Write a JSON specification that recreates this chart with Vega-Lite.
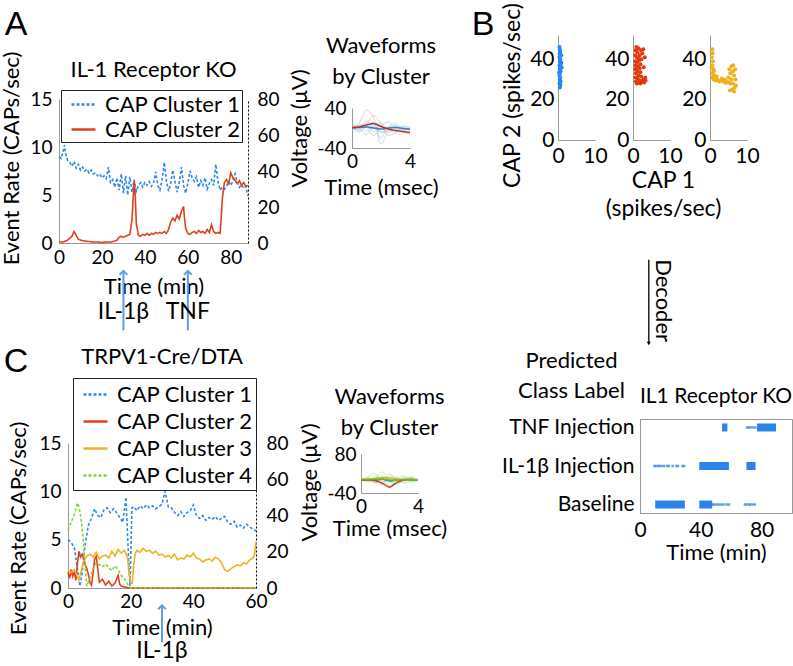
{
"$schema":"https://vega.github.io/schema/vega-lite/v6.json",
"padding":0,
"background":"white",
"data":{"values":[{"d":0}]},
"datasets":{
"arate":[
{"t":0,"v":9.0,"s":"CAP Cluster 1"},{"t":1,"v":8.8,"s":"CAP Cluster 1"},{"t":2,"v":9.6,"s":"CAP Cluster 1"},{"t":2.5,"v":10.2,"s":"CAP Cluster 1"},{"t":3,"v":9.4,"s":"CAP Cluster 1"},{"t":4,"v":8.6,"s":"CAP Cluster 1"},{"t":5,"v":8.4,"s":"CAP Cluster 1"},{"t":6,"v":8.0,"s":"CAP Cluster 1"},{"t":7,"v":8.5,"s":"CAP Cluster 1"},{"t":8,"v":7.8,"s":"CAP Cluster 1"},{"t":9,"v":8.2,"s":"CAP Cluster 1"},{"t":10,"v":7.6,"s":"CAP Cluster 1"},{"t":11,"v":7.9,"s":"CAP Cluster 1"},{"t":12,"v":7.5,"s":"CAP Cluster 1"},{"t":13,"v":7.7,"s":"CAP Cluster 1"},{"t":14,"v":7.3,"s":"CAP Cluster 1"},{"t":15,"v":7.6,"s":"CAP Cluster 1"},{"t":16,"v":7.2,"s":"CAP Cluster 1"},{"t":17,"v":7.3,"s":"CAP Cluster 1"},{"t":18,"v":7.0,"s":"CAP Cluster 1"},{"t":19,"v":7.2,"s":"CAP Cluster 1"},{"t":20,"v":6.8,"s":"CAP Cluster 1"},{"t":21,"v":7.0,"s":"CAP Cluster 1"},{"t":22,"v":6.7,"s":"CAP Cluster 1"},{"t":23,"v":7.9,"s":"CAP Cluster 1"},{"t":24,"v":6.3,"s":"CAP Cluster 1"},{"t":25,"v":6.6,"s":"CAP Cluster 1"},{"t":26,"v":5.8,"s":"CAP Cluster 1"},{"t":27,"v":6.8,"s":"CAP Cluster 1"},{"t":28,"v":5.5,"s":"CAP Cluster 1"},{"t":29,"v":7.2,"s":"CAP Cluster 1"},{"t":30,"v":5.2,"s":"CAP Cluster 1"},{"t":31,"v":7.0,"s":"CAP Cluster 1"},{"t":32,"v":5.0,"s":"CAP Cluster 1"},{"t":33,"v":6.9,"s":"CAP Cluster 1"},{"t":34,"v":5.3,"s":"CAP Cluster 1"},{"t":35,"v":6.6,"s":"CAP Cluster 1"},{"t":36,"v":5.4,"s":"CAP Cluster 1"},{"t":37,"v":6.0,"s":"CAP Cluster 1"},{"t":38,"v":6.3,"s":"CAP Cluster 1"},{"t":39,"v":5.8,"s":"CAP Cluster 1"},{"t":40,"v":6.3,"s":"CAP Cluster 1"},{"t":41,"v":6.0,"s":"CAP Cluster 1"},{"t":42,"v":6.4,"s":"CAP Cluster 1"},{"t":43,"v":5.9,"s":"CAP Cluster 1"},{"t":44,"v":6.2,"s":"CAP Cluster 1"},{"t":45,"v":7.4,"s":"CAP Cluster 1"},{"t":46,"v":6.0,"s":"CAP Cluster 1"},{"t":47,"v":5.5,"s":"CAP Cluster 1"},{"t":48,"v":6.6,"s":"CAP Cluster 1"},{"t":49,"v":8.4,"s":"CAP Cluster 1"},{"t":50,"v":6.5,"s":"CAP Cluster 1"},{"t":51,"v":5.4,"s":"CAP Cluster 1"},{"t":52,"v":6.2,"s":"CAP Cluster 1"},{"t":53,"v":7.6,"s":"CAP Cluster 1"},{"t":54,"v":6.4,"s":"CAP Cluster 1"},{"t":55,"v":5.3,"s":"CAP Cluster 1"},{"t":56,"v":6.3,"s":"CAP Cluster 1"},{"t":57,"v":7.9,"s":"CAP Cluster 1"},{"t":58,"v":6.0,"s":"CAP Cluster 1"},{"t":59,"v":5.2,"s":"CAP Cluster 1"},{"t":60,"v":6.2,"s":"CAP Cluster 1"},{"t":61,"v":7.5,"s":"CAP Cluster 1"},{"t":62,"v":6.8,"s":"CAP Cluster 1"},{"t":63,"v":6.4,"s":"CAP Cluster 1"},{"t":64,"v":6.9,"s":"CAP Cluster 1"},{"t":65,"v":5.8,"s":"CAP Cluster 1"},{"t":66,"v":6.5,"s":"CAP Cluster 1"},{"t":67,"v":6.0,"s":"CAP Cluster 1"},{"t":68,"v":6.8,"s":"CAP Cluster 1"},{"t":69,"v":5.6,"s":"CAP Cluster 1"},{"t":70,"v":6.2,"s":"CAP Cluster 1"},{"t":71,"v":6.6,"s":"CAP Cluster 1"},{"t":72,"v":6.0,"s":"CAP Cluster 1"},{"t":73,"v":8.2,"s":"CAP Cluster 1"},{"t":74,"v":6.4,"s":"CAP Cluster 1"},{"t":75,"v":5.5,"s":"CAP Cluster 1"},{"t":76,"v":5.8,"s":"CAP Cluster 1"},{"t":77,"v":5.6,"s":"CAP Cluster 1"},{"t":78,"v":5.9,"s":"CAP Cluster 1"},{"t":79,"v":6.4,"s":"CAP Cluster 1"},{"t":80,"v":6.0,"s":"CAP Cluster 1"},{"t":81,"v":6.5,"s":"CAP Cluster 1"},{"t":82,"v":7.2,"s":"CAP Cluster 1"},{"t":83,"v":6.3,"s":"CAP Cluster 1"},{"t":84,"v":5.8,"s":"CAP Cluster 1"},{"t":85,"v":6.1,"s":"CAP Cluster 1"},{"t":86,"v":5.7,"s":"CAP Cluster 1"},{"t":87,"v":5.9,"s":"CAP Cluster 1"},{"t":88,"v":4.9,"s":"CAP Cluster 1"},
{"t":0,"v":0.1,"s":"CAP Cluster 2"},{"t":2,"v":0.1,"s":"CAP Cluster 2"},{"t":4,"v":0.3,"s":"CAP Cluster 2"},{"t":5,"v":0.5,"s":"CAP Cluster 2"},{"t":6,"v":0.7,"s":"CAP Cluster 2"},{"t":7,"v":1.2,"s":"CAP Cluster 2"},{"t":8,"v":0.8,"s":"CAP Cluster 2"},{"t":9,"v":0.4,"s":"CAP Cluster 2"},{"t":10,"v":0.3,"s":"CAP Cluster 2"},{"t":12,"v":0.2,"s":"CAP Cluster 2"},{"t":14,"v":0.15,"s":"CAP Cluster 2"},{"t":16,"v":0.1,"s":"CAP Cluster 2"},{"t":18,"v":0.1,"s":"CAP Cluster 2"},{"t":20,"v":0.05,"s":"CAP Cluster 2"},{"t":22,"v":0.1,"s":"CAP Cluster 2"},{"t":24,"v":0.1,"s":"CAP Cluster 2"},{"t":26,"v":0.2,"s":"CAP Cluster 2"},{"t":27,"v":0.3,"s":"CAP Cluster 2"},{"t":28,"v":0.6,"s":"CAP Cluster 2"},{"t":29,"v":0.7,"s":"CAP Cluster 2"},{"t":30,"v":0.6,"s":"CAP Cluster 2"},{"t":31,"v":0.7,"s":"CAP Cluster 2"},{"t":32,"v":0.8,"s":"CAP Cluster 2"},{"t":33,"v":0.9,"s":"CAP Cluster 2"},{"t":34,"v":2.5,"s":"CAP Cluster 2"},{"t":35,"v":6.5,"s":"CAP Cluster 2"},{"t":35.5,"v":5.0,"s":"CAP Cluster 2"},{"t":36,"v":2.0,"s":"CAP Cluster 2"},{"t":37,"v":0.8,"s":"CAP Cluster 2"},{"t":38,"v":0.7,"s":"CAP Cluster 2"},{"t":39,"v":0.9,"s":"CAP Cluster 2"},{"t":40,"v":0.8,"s":"CAP Cluster 2"},{"t":41,"v":1.0,"s":"CAP Cluster 2"},{"t":42,"v":0.8,"s":"CAP Cluster 2"},{"t":43,"v":1.0,"s":"CAP Cluster 2"},{"t":44,"v":0.9,"s":"CAP Cluster 2"},{"t":45,"v":1.1,"s":"CAP Cluster 2"},{"t":46,"v":1.0,"s":"CAP Cluster 2"},{"t":47,"v":1.1,"s":"CAP Cluster 2"},{"t":48,"v":1.0,"s":"CAP Cluster 2"},{"t":49,"v":1.2,"s":"CAP Cluster 2"},{"t":50,"v":1.0,"s":"CAP Cluster 2"},{"t":51,"v":1.4,"s":"CAP Cluster 2"},{"t":52,"v":2.2,"s":"CAP Cluster 2"},{"t":53,"v":2.6,"s":"CAP Cluster 2"},{"t":54,"v":2.3,"s":"CAP Cluster 2"},{"t":55,"v":2.9,"s":"CAP Cluster 2"},{"t":56,"v":2.5,"s":"CAP Cluster 2"},{"t":57,"v":3.3,"s":"CAP Cluster 2"},{"t":58,"v":3.8,"s":"CAP Cluster 2"},{"t":58.5,"v":2.4,"s":"CAP Cluster 2"},{"t":59,"v":1.5,"s":"CAP Cluster 2"},{"t":60,"v":1.0,"s":"CAP Cluster 2"},{"t":61,"v":0.9,"s":"CAP Cluster 2"},{"t":62,"v":1.1,"s":"CAP Cluster 2"},{"t":63,"v":1.2,"s":"CAP Cluster 2"},{"t":64,"v":1.0,"s":"CAP Cluster 2"},{"t":65,"v":1.3,"s":"CAP Cluster 2"},{"t":66,"v":1.1,"s":"CAP Cluster 2"},{"t":67,"v":1.2,"s":"CAP Cluster 2"},{"t":68,"v":1.0,"s":"CAP Cluster 2"},{"t":69,"v":1.4,"s":"CAP Cluster 2"},{"t":70,"v":1.1,"s":"CAP Cluster 2"},{"t":71,"v":1.9,"s":"CAP Cluster 2"},{"t":72,"v":1.2,"s":"CAP Cluster 2"},{"t":73,"v":1.0,"s":"CAP Cluster 2"},{"t":74,"v":1.1,"s":"CAP Cluster 2"},{"t":75,"v":1.0,"s":"CAP Cluster 2"},{"t":75.5,"v":2.5,"s":"CAP Cluster 2"},{"t":76,"v":4.5,"s":"CAP Cluster 2"},{"t":77,"v":6.3,"s":"CAP Cluster 2"},{"t":78,"v":6.6,"s":"CAP Cluster 2"},{"t":79,"v":6.2,"s":"CAP Cluster 2"},{"t":80,"v":7.3,"s":"CAP Cluster 2"},{"t":81,"v":6.8,"s":"CAP Cluster 2"},{"t":82,"v":6.5,"s":"CAP Cluster 2"},{"t":83,"v":6.2,"s":"CAP Cluster 2"},{"t":84,"v":6.5,"s":"CAP Cluster 2"},{"t":85,"v":6.0,"s":"CAP Cluster 2"},{"t":86,"v":6.3,"s":"CAP Cluster 2"},{"t":87,"v":5.9,"s":"CAP Cluster 2"},{"t":88,"v":6.0,"s":"CAP Cluster 2"}
],
"ainj":[{"t":30,"lab":"IL-1β"},{"t":60,"lab":"TNF"}],
"cinj":[{"t":30,"lab":"IL-1β"}],
"awave":[
{"t":0,"v":3,"k":"w1","tr":"b1"},{"t":0.5,"v":5,"k":"w1","tr":"b1"},{"t":1,"v":-6,"k":"w1","tr":"b1"},{"t":1.5,"v":8,"k":"w1","tr":"b1"},{"t":2,"v":-20,"k":"w1","tr":"b1"},{"t":2.5,"v":4,"k":"w1","tr":"b1"},{"t":3,"v":0,"k":"w1","tr":"b1"},{"t":3.5,"v":2,"k":"w1","tr":"b1"},{"t":4,"v":-1,"k":"w1","tr":"b1"},
{"t":0,"v":-4,"k":"w1","tr":"b2"},{"t":0.5,"v":2,"k":"w1","tr":"b2"},{"t":1,"v":10,"k":"w1","tr":"b2"},{"t":1.5,"v":-8,"k":"w1","tr":"b2"},{"t":2,"v":6,"k":"w1","tr":"b2"},{"t":2.5,"v":-10,"k":"w1","tr":"b2"},{"t":3,"v":5,"k":"w1","tr":"b2"},{"t":3.5,"v":-3,"k":"w1","tr":"b2"},{"t":4,"v":0,"k":"w1","tr":"b2"},
{"t":0,"v":0,"k":"w1","tr":"b3"},{"t":0.5,"v":-8,"k":"w1","tr":"b3"},{"t":1,"v":4,"k":"w1","tr":"b3"},{"t":1.5,"v":12,"k":"w1","tr":"b3"},{"t":2,"v":-32,"k":"w1","tr":"b3"},{"t":2.5,"v":-6,"k":"w1","tr":"b3"},{"t":3,"v":3,"k":"w1","tr":"b3"},{"t":3.5,"v":0,"k":"w1","tr":"b3"},{"t":4,"v":-2,"k":"w1","tr":"b3"},
{"t":0,"v":6,"k":"w1","tr":"b4"},{"t":0.5,"v":0,"k":"w1","tr":"b4"},{"t":1,"v":-12,"k":"w1","tr":"b4"},{"t":1.5,"v":5,"k":"w1","tr":"b4"},{"t":2,"v":10,"k":"w1","tr":"b4"},{"t":2.5,"v":-4,"k":"w1","tr":"b4"},{"t":3,"v":-8,"k":"w1","tr":"b4"},{"t":3.5,"v":4,"k":"w1","tr":"b4"},{"t":4,"v":2,"k":"w1","tr":"b4"},
{"t":0,"v":-2,"k":"w1","tr":"b5"},{"t":0.5,"v":6,"k":"w1","tr":"b5"},{"t":1,"v":2,"k":"w1","tr":"b5"},{"t":1.5,"v":-15,"k":"w1","tr":"b5"},{"t":2,"v":3,"k":"w1","tr":"b5"},{"t":2.5,"v":12,"k":"w1","tr":"b5"},{"t":3,"v":-2,"k":"w1","tr":"b5"},{"t":3.5,"v":-6,"k":"w1","tr":"b5"},{"t":4,"v":1,"k":"w1","tr":"b5"},
{"t":0,"v":2,"k":"w1","tr":"b6"},{"t":0.5,"v":-3,"k":"w1","tr":"b6"},{"t":1,"v":14,"k":"w1","tr":"b6"},{"t":1.5,"v":2,"k":"w1","tr":"b6"},{"t":2,"v":-8,"k":"w1","tr":"b6"},{"t":2.5,"v":0,"k":"w1","tr":"b6"},{"t":3,"v":10,"k":"w1","tr":"b6"},{"t":3.5,"v":-2,"k":"w1","tr":"b6"},{"t":4,"v":-3,"k":"w1","tr":"b6"},
{"t":0,"v":0,"k":"w2","tr":"r1"},{"t":0.5,"v":10,"k":"w2","tr":"r1"},{"t":1,"v":36,"k":"w2","tr":"r1"},{"t":1.5,"v":20,"k":"w2","tr":"r1"},{"t":2,"v":-10,"k":"w2","tr":"r1"},{"t":2.5,"v":-5,"k":"w2","tr":"r1"},{"t":3,"v":5,"k":"w2","tr":"r1"},{"t":3.5,"v":-8,"k":"w2","tr":"r1"},{"t":4,"v":-12,"k":"w2","tr":"r1"},
{"t":0,"v":2,"k":"w2","tr":"r2"},{"t":0.5,"v":-5,"k":"w2","tr":"r2"},{"t":1,"v":8,"k":"w2","tr":"r2"},{"t":1.5,"v":25,"k":"w2","tr":"r2"},{"t":2,"v":8,"k":"w2","tr":"r2"},{"t":2.5,"v":-15,"k":"w2","tr":"r2"},{"t":3,"v":-10,"k":"w2","tr":"r2"},{"t":3.5,"v":0,"k":"w2","tr":"r2"},{"t":4,"v":-6,"k":"w2","tr":"r2"},
{"t":0,"v":0,"k":"m1","tr":"mb"},{"t":0.5,"v":1,"k":"m1","tr":"mb"},{"t":1,"v":2,"k":"m1","tr":"mb"},{"t":1.5,"v":0,"k":"m1","tr":"mb"},{"t":2,"v":-2,"k":"m1","tr":"mb"},{"t":2.5,"v":0,"k":"m1","tr":"mb"},{"t":3,"v":1,"k":"m1","tr":"mb"},{"t":3.5,"v":-1,"k":"m1","tr":"mb"},{"t":4,"v":-2,"k":"m1","tr":"mb"},
{"t":0,"v":1,"k":"m2","tr":"mr"},{"t":0.5,"v":2,"k":"m2","tr":"mr"},{"t":1,"v":6,"k":"m2","tr":"mr"},{"t":1.5,"v":9,"k":"m2","tr":"mr"},{"t":2,"v":3,"k":"m2","tr":"mr"},{"t":2.5,"v":-2,"k":"m2","tr":"mr"},{"t":3,"v":-5,"k":"m2","tr":"mr"},{"t":3.5,"v":-7,"k":"m2","tr":"mr"},{"t":4,"v":-9,"k":"m2","tr":"mr"}
],
"cwave":[
{"t":0,"v":5,"k":"w4","tr":"g1"},{"t":0.5,"v":-3,"k":"w4","tr":"g1"},{"t":1,"v":12,"k":"w4","tr":"g1"},{"t":1.5,"v":-8,"k":"w4","tr":"g1"},{"t":2,"v":20,"k":"w4","tr":"g1"},{"t":2.5,"v":-5,"k":"w4","tr":"g1"},{"t":3,"v":8,"k":"w4","tr":"g1"},{"t":3.5,"v":-2,"k":"w4","tr":"g1"},{"t":4,"v":3,"k":"w4","tr":"g1"},
{"t":0,"v":-4,"k":"w4","tr":"g2"},{"t":0.5,"v":8,"k":"w4","tr":"g2"},{"t":1,"v":-10,"k":"w4","tr":"g2"},{"t":1.5,"v":15,"k":"w4","tr":"g2"},{"t":2,"v":-18,"k":"w4","tr":"g2"},{"t":2.5,"v":10,"k":"w4","tr":"g2"},{"t":3,"v":-6,"k":"w4","tr":"g2"},{"t":3.5,"v":5,"k":"w4","tr":"g2"},{"t":4,"v":-1,"k":"w4","tr":"g2"},
{"t":0,"v":2,"k":"w4","tr":"g3"},{"t":0.5,"v":-6,"k":"w4","tr":"g3"},{"t":1,"v":4,"k":"w4","tr":"g3"},{"t":1.5,"v":25,"k":"w4","tr":"g3"},{"t":2,"v":-5,"k":"w4","tr":"g3"},{"t":2.5,"v":-12,"k":"w4","tr":"g3"},{"t":3,"v":4,"k":"w4","tr":"g3"},{"t":3.5,"v":8,"k":"w4","tr":"g3"},{"t":4,"v":0,"k":"w4","tr":"g3"},
{"t":0,"v":-2,"k":"w4","tr":"g4"},{"t":0.5,"v":4,"k":"w4","tr":"g4"},{"t":1,"v":-4,"k":"w4","tr":"g4"},{"t":1.5,"v":-15,"k":"w4","tr":"g4"},{"t":2,"v":12,"k":"w4","tr":"g4"},{"t":2.5,"v":6,"k":"w4","tr":"g4"},{"t":3,"v":-10,"k":"w4","tr":"g4"},{"t":3.5,"v":-4,"k":"w4","tr":"g4"},{"t":4,"v":5,"k":"w4","tr":"g4"},
{"t":0,"v":8,"k":"w4","tr":"g5"},{"t":0.5,"v":0,"k":"w4","tr":"g5"},{"t":1,"v":-8,"k":"w4","tr":"g5"},{"t":1.5,"v":6,"k":"w4","tr":"g5"},{"t":2,"v":-25,"k":"w4","tr":"g5"},{"t":2.5,"v":3,"k":"w4","tr":"g5"},{"t":3,"v":12,"k":"w4","tr":"g5"},{"t":3.5,"v":-6,"k":"w4","tr":"g5"},{"t":4,"v":-2,"k":"w4","tr":"g5"},
{"t":0,"v":0,"k":"w4","tr":"g6"},{"t":0.5,"v":10,"k":"w4","tr":"g6"},{"t":1,"v":20,"k":"w4","tr":"g6"},{"t":1.5,"v":-5,"k":"w4","tr":"g6"},{"t":2,"v":5,"k":"w4","tr":"g6"},{"t":2.5,"v":-15,"k":"w4","tr":"g6"},{"t":3,"v":0,"k":"w4","tr":"g6"},{"t":3.5,"v":10,"k":"w4","tr":"g6"},{"t":4,"v":-4,"k":"w4","tr":"g6"},
{"t":0,"v":0,"k":"m1","tr":"mb"},{"t":0.5,"v":0,"k":"m1","tr":"mb"},{"t":1,"v":-1,"k":"m1","tr":"mb"},{"t":1.5,"v":2,"k":"m1","tr":"mb"},{"t":2,"v":-3,"k":"m1","tr":"mb"},{"t":2.5,"v":0,"k":"m1","tr":"mb"},{"t":3,"v":1,"k":"m1","tr":"mb"},{"t":3.5,"v":0,"k":"m1","tr":"mb"},{"t":4,"v":0,"k":"m1","tr":"mb"},
{"t":0,"v":0,"k":"m2","tr":"mr"},{"t":0.5,"v":0,"k":"m2","tr":"mr"},{"t":1,"v":-2,"k":"m2","tr":"mr"},{"t":1.5,"v":-10,"k":"m2","tr":"mr"},{"t":2,"v":-22,"k":"m2","tr":"mr"},{"t":2.5,"v":-8,"k":"m2","tr":"mr"},{"t":3,"v":0,"k":"m2","tr":"mr"},{"t":3.5,"v":2,"k":"m2","tr":"mr"},{"t":4,"v":0,"k":"m2","tr":"mr"},
{"t":0,"v":2,"k":"m3","tr":"my"},{"t":0.5,"v":3,"k":"m3","tr":"my"},{"t":1,"v":5,"k":"m3","tr":"my"},{"t":1.5,"v":8,"k":"m3","tr":"my"},{"t":2,"v":6,"k":"m3","tr":"my"},{"t":2.5,"v":3,"k":"m3","tr":"my"},{"t":3,"v":2,"k":"m3","tr":"my"},{"t":3.5,"v":1,"k":"m3","tr":"my"},{"t":4,"v":1,"k":"m3","tr":"my"},
{"t":0,"v":1,"k":"m4","tr":"mg"},{"t":0.5,"v":1,"k":"m4","tr":"mg"},{"t":1,"v":2,"k":"m4","tr":"mg"},{"t":1.5,"v":3,"k":"m4","tr":"mg"},{"t":2,"v":0,"k":"m4","tr":"mg"},{"t":2.5,"v":-1,"k":"m4","tr":"mg"},{"t":3,"v":1,"k":"m4","tr":"mg"},{"t":3.5,"v":0,"k":"m4","tr":"mg"},{"t":4,"v":0,"k":"m4","tr":"mg"}
],
"s1":[{"x":0.5,"y":26},{"x":0.6,"y":27},{"x":0.4,"y":28},{"x":0.7,"y":29},{"x":0.5,"y":30},{"x":0.6,"y":31},{"x":0.4,"y":32},{"x":0.5,"y":33},{"x":0.7,"y":34},{"x":0.5,"y":35},{"x":0.6,"y":36},{"x":0.4,"y":37},{"x":0.8,"y":38},{"x":0.5,"y":39},{"x":0.6,"y":40},{"x":0.4,"y":41},{"x":0.9,"y":42},{"x":0.5,"y":43},{"x":0.6,"y":44},{"x":0.5,"y":45},{"x":0.4,"y":46},{"x":0.7,"y":37.5},{"x":0.8,"y":35.5},{"x":0.3,"y":33.5},{"x":0.6,"y":29.5},{"x":0.9,"y":38.5},{"x":0.5,"y":42.5},{"x":0.6,"y":27.5},{"x":1.0,"y":36}],
"s2":[{"x":1,"y":28},{"x":2,"y":28},{"x":3,"y":28.5},{"x":0.8,"y":29},{"x":1.8,"y":29.5},{"x":2.8,"y":30},{"x":3.3,"y":31},{"x":1.2,"y":30.5},{"x":0.7,"y":31},{"x":2.2,"y":31.5},{"x":1.5,"y":32},{"x":0.8,"y":33},{"x":2,"y":33.5},{"x":1.2,"y":34},{"x":0.6,"y":35},{"x":1.8,"y":35.5},{"x":1.3,"y":36.5},{"x":0.7,"y":37},{"x":2,"y":37.5},{"x":1.1,"y":38.5},{"x":0.6,"y":39},{"x":1.7,"y":39.5},{"x":2.3,"y":40},{"x":1,"y":41},{"x":0.6,"y":42},{"x":1.8,"y":42},{"x":2.5,"y":43},{"x":1.2,"y":43.5},{"x":0.7,"y":44.5},{"x":2.2,"y":44.5},{"x":1.5,"y":45.5},{"x":0.9,"y":46},{"x":2.8,"y":45},{"x":3.2,"y":41},{"x":2.9,"y":36},{"x":3.4,"y":29.5},{"x":1.5,"y":28.5},{"x":2.5,"y":29},{"x":1.4,"y":40.5},{"x":0.9,"y":35.5}],
"s3":[{"x":0.6,"y":45},{"x":0.7,"y":43},{"x":0.5,"y":41},{"x":0.8,"y":39},{"x":0.6,"y":37},{"x":0.9,"y":35},{"x":0.5,"y":33},{"x":0.7,"y":31},{"x":1.2,"y":32},{"x":1.0,"y":30},{"x":1.5,"y":29.5},{"x":2,"y":30},{"x":2.5,"y":29},{"x":3,"y":29.5},{"x":3.5,"y":29},{"x":4,"y":30},{"x":4.5,"y":29},{"x":5,"y":28.5},{"x":5.5,"y":28},{"x":5,"y":31},{"x":5.5,"y":33},{"x":5.2,"y":35},{"x":5.8,"y":36.5},{"x":6.3,"y":37},{"x":6.8,"y":35},{"x":6.5,"y":32},{"x":6.9,"y":30},{"x":6.2,"y":28},{"x":6.7,"y":26},{"x":6,"y":25},{"x":5.4,"y":24.5},{"x":6.5,"y":24},{"x":7,"y":27},{"x":5.8,"y":30},{"x":6.2,"y":34},{"x":1.8,"y":31.5},{"x":3.2,"y":30.5},{"x":4.2,"y":28.2},{"x":0.4,"y":36},{"x":1.1,"y":34}],
"crate":[
{"t":0,"v":5.0,"s":"CAP Cluster 1"},{"t":1,"v":4.7,"s":"CAP Cluster 1"},{"t":2,"v":4.2,"s":"CAP Cluster 1"},{"t":3,"v":2.0,"s":"CAP Cluster 1"},{"t":3.8,"v":0.2,"s":"CAP Cluster 1"},{"t":4.5,"v":1.5,"s":"CAP Cluster 1"},{"t":5.5,"v":4.5,"s":"CAP Cluster 1"},{"t":6.5,"v":6.5,"s":"CAP Cluster 1"},{"t":7.5,"v":7.2,"s":"CAP Cluster 1"},{"t":8.5,"v":8.2,"s":"CAP Cluster 1"},{"t":9.5,"v":7.5,"s":"CAP Cluster 1"},{"t":10.5,"v":7.3,"s":"CAP Cluster 1"},{"t":11.5,"v":8.1,"s":"CAP Cluster 1"},{"t":12.5,"v":8.3,"s":"CAP Cluster 1"},{"t":13.5,"v":7.8,"s":"CAP Cluster 1"},{"t":14.5,"v":8.2,"s":"CAP Cluster 1"},{"t":15.5,"v":7.8,"s":"CAP Cluster 1"},{"t":16.5,"v":7.3,"s":"CAP Cluster 1"},{"t":17.5,"v":6.8,"s":"CAP Cluster 1"},{"t":18.5,"v":9.4,"s":"CAP Cluster 1"},{"t":19.2,"v":4.0,"s":"CAP Cluster 1"},{"t":19.8,"v":0.2,"s":"CAP Cluster 1"},{"t":20.4,"v":8.3,"s":"CAP Cluster 1"},{"t":21,"v":8.4,"s":"CAP Cluster 1"},{"t":22,"v":8.0,"s":"CAP Cluster 1"},{"t":23,"v":8.5,"s":"CAP Cluster 1"},{"t":24,"v":8.2,"s":"CAP Cluster 1"},{"t":25,"v":8.6,"s":"CAP Cluster 1"},{"t":26,"v":8.3,"s":"CAP Cluster 1"},{"t":27,"v":8.5,"s":"CAP Cluster 1"},{"t":28,"v":8.2,"s":"CAP Cluster 1"},{"t":29,"v":8.4,"s":"CAP Cluster 1"},{"t":30,"v":8.7,"s":"CAP Cluster 1"},{"t":31,"v":10.0,"s":"CAP Cluster 1"},{"t":32,"v":8.4,"s":"CAP Cluster 1"},{"t":33,"v":8.3,"s":"CAP Cluster 1"},{"t":34,"v":7.8,"s":"CAP Cluster 1"},{"t":35,"v":7.5,"s":"CAP Cluster 1"},{"t":36,"v":7.9,"s":"CAP Cluster 1"},{"t":37,"v":7.4,"s":"CAP Cluster 1"},{"t":38,"v":7.8,"s":"CAP Cluster 1"},{"t":39,"v":8.0,"s":"CAP Cluster 1"},{"t":40,"v":8.6,"s":"CAP Cluster 1"},{"t":41,"v":7.5,"s":"CAP Cluster 1"},{"t":42,"v":7.2,"s":"CAP Cluster 1"},{"t":43,"v":7.5,"s":"CAP Cluster 1"},{"t":44,"v":7.0,"s":"CAP Cluster 1"},{"t":45,"v":7.3,"s":"CAP Cluster 1"},{"t":46,"v":7.1,"s":"CAP Cluster 1"},{"t":47,"v":7.4,"s":"CAP Cluster 1"},{"t":48,"v":7.0,"s":"CAP Cluster 1"},{"t":49,"v":7.2,"s":"CAP Cluster 1"},{"t":50,"v":7.4,"s":"CAP Cluster 1"},{"t":51,"v":6.8,"s":"CAP Cluster 1"},{"t":52,"v":6.6,"s":"CAP Cluster 1"},{"t":53,"v":6.9,"s":"CAP Cluster 1"},{"t":54,"v":6.3,"s":"CAP Cluster 1"},{"t":55,"v":6.5,"s":"CAP Cluster 1"},{"t":56,"v":6.2,"s":"CAP Cluster 1"},{"t":57,"v":6.6,"s":"CAP Cluster 1"},{"t":58,"v":6.3,"s":"CAP Cluster 1"},{"t":59,"v":6.1,"s":"CAP Cluster 1"},{"t":60,"v":5.9,"s":"CAP Cluster 1"},
{"t":0,"v":1.6,"s":"CAP Cluster 2"},{"t":0.5,"v":1.0,"s":"CAP Cluster 2"},{"t":1,"v":1.9,"s":"CAP Cluster 2"},{"t":1.5,"v":1.2,"s":"CAP Cluster 2"},{"t":2,"v":1.7,"s":"CAP Cluster 2"},{"t":2.5,"v":0.8,"s":"CAP Cluster 2"},{"t":3,"v":2.5,"s":"CAP Cluster 2"},{"t":3.5,"v":3.8,"s":"CAP Cluster 2"},{"t":4,"v":3.2,"s":"CAP Cluster 2"},{"t":4.5,"v":3.5,"s":"CAP Cluster 2"},{"t":5,"v":3.0,"s":"CAP Cluster 2"},{"t":5.5,"v":2.4,"s":"CAP Cluster 2"},{"t":6,"v":2.0,"s":"CAP Cluster 2"},{"t":6.5,"v":1.4,"s":"CAP Cluster 2"},{"t":7,"v":0.6,"s":"CAP Cluster 2"},{"t":7.5,"v":0.3,"s":"CAP Cluster 2"},{"t":8,"v":1.5,"s":"CAP Cluster 2"},{"t":8.5,"v":3.0,"s":"CAP Cluster 2"},{"t":9,"v":3.3,"s":"CAP Cluster 2"},{"t":9.5,"v":2.0,"s":"CAP Cluster 2"},{"t":10,"v":0.6,"s":"CAP Cluster 2"},{"t":11,"v":0.9,"s":"CAP Cluster 2"},{"t":12,"v":0.3,"s":"CAP Cluster 2"},{"t":13,"v":0.7,"s":"CAP Cluster 2"},{"t":14,"v":0.2,"s":"CAP Cluster 2"},{"t":15,"v":0.5,"s":"CAP Cluster 2"},{"t":16,"v":1.3,"s":"CAP Cluster 2"},{"t":16.5,"v":0.4,"s":"CAP Cluster 2"},{"t":17,"v":0.2,"s":"CAP Cluster 2"},{"t":18,"v":0.1,"s":"CAP Cluster 2"},{"t":19,"v":0.05,"s":"CAP Cluster 2"},{"t":20,"v":0,"s":"CAP Cluster 2"},{"t":40,"v":0,"s":"CAP Cluster 2"},{"t":60,"v":0,"s":"CAP Cluster 2"},
{"t":0,"v":1.8,"s":"CAP Cluster 3"},{"t":1,"v":1.6,"s":"CAP Cluster 3"},{"t":2,"v":1.9,"s":"CAP Cluster 3"},{"t":3,"v":1.2,"s":"CAP Cluster 3"},{"t":3.5,"v":0.8,"s":"CAP Cluster 3"},{"t":4,"v":1.5,"s":"CAP Cluster 3"},{"t":5,"v":2.8,"s":"CAP Cluster 3"},{"t":6,"v":3.3,"s":"CAP Cluster 3"},{"t":7,"v":3.5,"s":"CAP Cluster 3"},{"t":8,"v":3.2,"s":"CAP Cluster 3"},{"t":9,"v":3.7,"s":"CAP Cluster 3"},{"t":10,"v":3.0,"s":"CAP Cluster 3"},{"t":11,"v":3.3,"s":"CAP Cluster 3"},{"t":12,"v":3.4,"s":"CAP Cluster 3"},{"t":13,"v":3.1,"s":"CAP Cluster 3"},{"t":14,"v":3.8,"s":"CAP Cluster 3"},{"t":15,"v":3.3,"s":"CAP Cluster 3"},{"t":16,"v":4.0,"s":"CAP Cluster 3"},{"t":17,"v":3.6,"s":"CAP Cluster 3"},{"t":18,"v":3.9,"s":"CAP Cluster 3"},{"t":19,"v":3.2,"s":"CAP Cluster 3"},{"t":19.5,"v":1.5,"s":"CAP Cluster 3"},{"t":20,"v":0.6,"s":"CAP Cluster 3"},{"t":20.5,"v":0.5,"s":"CAP Cluster 3"},{"t":21,"v":2.5,"s":"CAP Cluster 3"},{"t":21.5,"v":3.6,"s":"CAP Cluster 3"},{"t":22,"v":3.9,"s":"CAP Cluster 3"},{"t":23,"v":3.7,"s":"CAP Cluster 3"},{"t":24,"v":4.1,"s":"CAP Cluster 3"},{"t":25,"v":3.8,"s":"CAP Cluster 3"},{"t":26,"v":3.9,"s":"CAP Cluster 3"},{"t":27,"v":3.6,"s":"CAP Cluster 3"},{"t":28,"v":3.8,"s":"CAP Cluster 3"},{"t":29,"v":3.4,"s":"CAP Cluster 3"},{"t":30,"v":3.5,"s":"CAP Cluster 3"},{"t":31,"v":3.2,"s":"CAP Cluster 3"},{"t":32,"v":3.4,"s":"CAP Cluster 3"},{"t":33,"v":3.1,"s":"CAP Cluster 3"},{"t":34,"v":3.5,"s":"CAP Cluster 3"},{"t":35,"v":2.9,"s":"CAP Cluster 3"},{"t":36,"v":3.1,"s":"CAP Cluster 3"},{"t":37,"v":3.0,"s":"CAP Cluster 3"},{"t":38,"v":3.4,"s":"CAP Cluster 3"},{"t":39,"v":3.2,"s":"CAP Cluster 3"},{"t":40,"v":3.6,"s":"CAP Cluster 3"},{"t":41,"v":3.1,"s":"CAP Cluster 3"},{"t":42,"v":3.0,"s":"CAP Cluster 3"},{"t":43,"v":2.7,"s":"CAP Cluster 3"},{"t":44,"v":2.9,"s":"CAP Cluster 3"},{"t":45,"v":3.0,"s":"CAP Cluster 3"},{"t":46,"v":2.8,"s":"CAP Cluster 3"},{"t":47,"v":3.2,"s":"CAP Cluster 3"},{"t":48,"v":3.0,"s":"CAP Cluster 3"},{"t":49,"v":2.6,"s":"CAP Cluster 3"},{"t":50,"v":1.9,"s":"CAP Cluster 3"},{"t":51,"v":1.7,"s":"CAP Cluster 3"},{"t":52,"v":2.0,"s":"CAP Cluster 3"},{"t":53,"v":2.2,"s":"CAP Cluster 3"},{"t":54,"v":2.4,"s":"CAP Cluster 3"},{"t":55,"v":2.3,"s":"CAP Cluster 3"},{"t":56,"v":2.6,"s":"CAP Cluster 3"},{"t":57,"v":2.5,"s":"CAP Cluster 3"},{"t":58,"v":2.9,"s":"CAP Cluster 3"},{"t":59,"v":3.1,"s":"CAP Cluster 3"},{"t":59.5,"v":3.4,"s":"CAP Cluster 3"},{"t":60,"v":4.8,"s":"CAP Cluster 3"},
{"t":0,"v":6.0,"s":"CAP Cluster 4"},{"t":1,"v":6.8,"s":"CAP Cluster 4"},{"t":2,"v":7.6,"s":"CAP Cluster 4"},{"t":3,"v":8.8,"s":"CAP Cluster 4"},{"t":3.5,"v":8.4,"s":"CAP Cluster 4"},{"t":4,"v":7.5,"s":"CAP Cluster 4"},{"t":4.5,"v":6.2,"s":"CAP Cluster 4"},{"t":5,"v":4.5,"s":"CAP Cluster 4"},{"t":5.5,"v":2.0,"s":"CAP Cluster 4"},{"t":6,"v":0.2,"s":"CAP Cluster 4"},{"t":7,"v":1.0,"s":"CAP Cluster 4"},{"t":8,"v":2.0,"s":"CAP Cluster 4"},{"t":9,"v":2.6,"s":"CAP Cluster 4"},{"t":10,"v":2.4,"s":"CAP Cluster 4"},{"t":11,"v":2.2,"s":"CAP Cluster 4"},{"t":12,"v":2.5,"s":"CAP Cluster 4"},{"t":13,"v":2.1,"s":"CAP Cluster 4"},{"t":14,"v":1.8,"s":"CAP Cluster 4"},{"t":15,"v":2.3,"s":"CAP Cluster 4"},{"t":16,"v":1.9,"s":"CAP Cluster 4"},{"t":17,"v":1.3,"s":"CAP Cluster 4"},{"t":18,"v":1.0,"s":"CAP Cluster 4"},{"t":19,"v":0.4,"s":"CAP Cluster 4"},{"t":20,"v":0,"s":"CAP Cluster 4"},{"t":40,"v":0,"s":"CAP Cluster 4"},{"t":60,"v":0,"s":"CAP Cluster 4"}
],
"rbars":[{"cls":"Baseline","t0":10,"t1":29.5},{"cls":"Baseline","t0":39,"t1":47.5},{"cls":"IL-1β Injection","t0":39,"t1":58.5},{"cls":"IL-1β Injection","t0":70,"t1":76},{"cls":"TNF Injection","t0":54,"t1":57.5},{"cls":"TNF Injection","t0":77,"t1":89.5}],
"rpts":[{"cls":"Baseline","t":48},{"cls":"Baseline","t":49},{"cls":"Baseline","t":50.5},{"cls":"Baseline","t":52},{"cls":"Baseline","t":53.5},{"cls":"Baseline","t":55},{"cls":"Baseline","t":57},{"cls":"Baseline","t":58.5},{"cls":"Baseline","t":69},{"cls":"Baseline","t":70},{"cls":"Baseline","t":71.5},{"cls":"Baseline","t":72.5},{"cls":"Baseline","t":74},{"cls":"Baseline","t":75.5},{"cls":"IL-1β Injection","t":9.5},{"cls":"IL-1β Injection","t":10.5},{"cls":"IL-1β Injection","t":12},{"cls":"IL-1β Injection","t":13},{"cls":"IL-1β Injection","t":14.5},{"cls":"IL-1β Injection","t":16},{"cls":"IL-1β Injection","t":18},{"cls":"IL-1β Injection","t":19},{"cls":"IL-1β Injection","t":21.5},{"cls":"IL-1β Injection","t":24},{"cls":"IL-1β Injection","t":25},{"cls":"IL-1β Injection","t":28},{"cls":"IL-1β Injection","t":29},{"cls":"TNF Injection","t":70.5},{"cls":"TNF Injection","t":71.5},{"cls":"TNF Injection","t":73},{"cls":"TNF Injection","t":74.5},{"cls":"TNF Injection","t":76}]
},
"columns":11,
"align":"each",
"bounds":"flush",
"spacing":0,
"resolve":{"scale":{"color":"independent","strokeDash":"independent"}},
"concat":[
{"vconcat":[{"width":30,"height":50,"data":{"values":[{"lab":"A"}]},"mark":{"type":"text","fontSize":34,"font":"Liberation Sans","baseline":"middle"},"encoding":{"text":{"field":"lab"}}}],"spacing":0,"bounds":"flush"},
{"width":9,"height":35,"mark":{"type":"text","text":""}},
{"width":284,"height":35,"mark":{"type":"text","text":""}},
{"width":9,"height":35,"mark":{"type":"text","text":""}},
{"width":107,"height":35,"mark":{"type":"text","text":""}},
{"vconcat":[{"width":30,"height":50,"data":{"values":[{"lab":"B"}]},"mark":{"type":"text","fontSize":34,"font":"Liberation Sans","baseline":"middle"},"encoding":{"text":{"field":"lab"}}}],"spacing":0,"bounds":"flush"},
{"width":75,"height":35,"mark":{"type":"text","text":""}},
{"width":3,"height":35,"mark":{"type":"text","text":""}},
{"width":4,"height":35,"mark":{"type":"text","text":""}},
{"width":70,"height":35,"mark":{"type":"text","text":""}},
{"width":1,"height":35,"mark":{"type":"text","text":""}},

{"width":58,"height":64,"mark":{"type":"text","text":""}},
{"width":9,"height":64,"mark":{"type":"text","text":""}},
{"width":284,"height":64,"mark":{"type":"text","text":""}},
{"width":9,"height":64,"mark":{"type":"text","text":""}},
{"width":107,"height":64,"mark":{"type":"text","text":""}},
{"width":90,"height":64,"mark":{"type":"text","text":""}},
{"vconcat":[{"width":37,"height":105,"data":{"name":"s1"},"mark":{"type":"circle","size":16,"opacity":1,"color":"#2f86ea"},
 "encoding":{"x":{"field":"x","type":"quantitative","scale":{"domain":[0,10],"nice":false},"axis":{"values":[0,10],"title":null,"labelFontSize":21,"labelPadding":5}},
  "y":{"field":"y","type":"quantitative","scale":{"domain":[0,52],"nice":false},"axis":{"values":[0,20,40],"title":"CAP 2 (spikes/sec)","titleFontSize":23,"titleY":60,"labelFontSize":21,"labelPadding":4,"titlePadding":5}}}}],"spacing":0,"bounds":"flush"},
{"vconcat":[{"width":37,"height":105,"data":{"name":"s2"},"mark":{"type":"circle","size":16,"opacity":1,"color":"#e03a10"},
 "encoding":{"x":{"field":"x","type":"quantitative","scale":{"domain":[0,10],"nice":false},"axis":{"values":[0,10],"title":["CAP 1","(spikes/sec)"],"titleFontSize":23,"titleX":30,"titleLineHeight":28,"labelFontSize":21,"labelPadding":5,"titlePadding":3}},
  "y":{"field":"y","type":"quantitative","scale":{"domain":[0,52],"nice":false},"axis":{"values":[0,20,40],"title":null,"labelFontSize":21,"labelPadding":4}}}}],"spacing":0,"bounds":"flush"},
{"width":4,"height":64,"mark":{"type":"text","text":""}},
{"width":70,"height":64,"mark":{"type":"text","text":""}},
{"vconcat":[{"width":37,"height":105,"data":{"name":"s3"},"mark":{"type":"circle","size":16,"opacity":1,"color":"#efb018"},
 "encoding":{"x":{"field":"x","type":"quantitative","scale":{"domain":[0,10],"nice":false},"axis":{"values":[0,10],"title":null,"labelFontSize":21,"labelPadding":5}},
  "y":{"field":"y","type":"quantitative","scale":{"domain":[0,52],"nice":false},"axis":{"values":[0,20,40],"title":null,"labelFontSize":21,"labelPadding":4}}}}],"spacing":0,"bounds":"flush"},

{"width":58,"height":9,"mark":{"type":"text","text":""}},
{"vconcat":[{
 "width":189,"height":144,
 "title":{"text":"IL-1 Receptor KO","offset":-31},
 "layer":[
  {"data":{"name":"arate"},
   "layer":[
    {"mark":{"type":"line","strokeWidth":1.6},
     "encoding":{
      "x":{"field":"t","type":"quantitative","scale":{"domain":[0,88],"nice":false},"axis":{"values":[0,20,40,60,80],"title":"Time (min)","labelPadding":5,"titlePadding":9}},
      "y":{"field":"v","type":"quantitative","scale":{"domain":[0,15],"nice":false},"axis":{"values":[0,5,10,15],"title":"Event Rate (CAPs/sec)","titleY":59,"labelPadding":7,"titlePadding":6}},
      "color":{"field":"s","type":"nominal","scale":{"domain":["CAP Cluster 1","CAP Cluster 2"],"range":["#3389e8","#e2401c"]},"legend":{"title":null,"orient":"none","legendX":2,"legendY":-9,"labelFontSize":22,"symbolType":"stroke","symbolSize":576,"symbolStrokeWidth":2.5,"strokeColor":"#222","fillColor":"#ffffff","padding":1,"rowPadding":0,"labelLimit":400,"symbolOffset":8,"labelOffset":8}},
      "strokeDash":{"field":"s","type":"nominal","scale":{"domain":["CAP Cluster 1","CAP Cluster 2"],"range":[[3,2],[1,0]]},"legend":{"title":null,"orient":"none","legendX":2,"legendY":-9,"labelFontSize":22,"symbolType":"stroke","symbolSize":576,"symbolStrokeWidth":2.5,"strokeColor":"#222","fillColor":"#ffffff","padding":1,"rowPadding":0,"labelLimit":400,"symbolOffset":8,"labelOffset":8}}
     }},
    {"data":{"name":"ainj"},"mark":{"type":"rule","color":"#5f9de6","strokeWidth":2},"encoding":{"x":{"field":"t","type":"quantitative"},"y":{"datum":-2.9},"y2":{"datum":-9.1}}},
    {"data":{"name":"ainj"},"mark":{"type":"point","shape":"M-1,1L0,0L1,1","filled":false,"stroke":"#5f9de6","strokeWidth":2,"size":60,"opacity":1},"encoding":{"x":{"field":"t","type":"quantitative"},"y":{"datum":-2.9}}},
    {"data":{"name":"ainj"},"mark":{"type":"text","fontSize":23,"baseline":"middle"},"encoding":{"x":{"field":"t","type":"quantitative"},"y":{"datum":-7.2},"text":{"field":"lab"}}}
   ]},
  {"data":{"values":[{"r":0},{"r":80}]},"mark":{"type":"point","opacity":0},"encoding":{"y":{"field":"r","type":"quantitative","scale":{"domain":[0,80],"nice":false},"axis":{"orient":"right","values":[0,20,40,60,80],"title":null,"domainColor":"#000","domainDash":[2,2],"labelPadding":9}}}}
 ],
 "resolve":{"scale":{"y":"independent"}}
}],"spacing":0,"bounds":"flush","resolve":{"scale":{"color":"independent","strokeDash":"independent"}}},
{"width":284,"height":9,"mark":{"type":"text","text":""}},
{"width":9,"height":9,"mark":{"type":"text","text":""}},
{"width":107,"height":9,"mark":{"type":"text","text":""}},
{"width":90,"height":9,"mark":{"type":"text","text":""}},
{"width":75,"height":9,"mark":{"type":"text","text":""}},
{"width":3,"height":9,"mark":{"type":"text","text":""}},
{"width":4,"height":9,"mark":{"type":"text","text":""}},
{"width":70,"height":9,"mark":{"type":"text","text":""}},
{"width":1,"height":9,"mark":{"type":"text","text":""}},

{"width":58,"height":147,"mark":{"type":"text","text":""}},
{"width":9,"height":147,"mark":{"type":"text","text":""}},
{"width":284,"height":147,"mark":{"type":"text","text":""}},
{"vconcat":[{
 "width":58,"height":40,
 "title":{"text":["Waveforms","by Cluster"],"lineHeight":31,"offset":-20},
 "data":{"name":"awave"},
 "layer":[
  {"transform":[{"filter":"datum.k === 'w1' || datum.k === 'w2'"}],"mark":{"type":"line","strokeWidth":0.8,"opacity":0.75,"interpolate":"monotone"},
   "encoding":{"x":{"field":"t","type":"quantitative","scale":{"domain":[0,4],"nice":false},"axis":{"values":[0,2,4],"title":"Time (msec)","labelPadding":4,"titlePadding":6}},
    "y":{"field":"v","type":"quantitative","scale":{"domain":[-40,40],"nice":false},"axis":{"values":[-40,40],"labelExpr":"'' + datum.value","title":"Voltage (μV)","labelPadding":6,"titlePadding":5}},
    "color":{"field":"k","type":"nominal","scale":{"domain":["w1","w2","m1","m2"],"range":["#8fcbe9","#f3a797","#3f7fbf","#b8322a"]},"legend":null},
    "detail":{"field":"tr"}}},
  {"transform":[{"filter":"datum.k === 'm1' || datum.k === 'm2'"}],"mark":{"type":"line","strokeWidth":1.6,"interpolate":"monotone"},
   "encoding":{"x":{"field":"t","type":"quantitative"},"y":{"field":"v","type":"quantitative"},"color":{"field":"k","type":"nominal","legend":null},"detail":{"field":"tr"}}}
 ]
}],"spacing":0,"bounds":"flush"},
{"width":107,"height":147,"mark":{"type":"text","text":""}},
{"width":90,"height":147,"mark":{"type":"text","text":""}},
{"width":75,"height":147,"mark":{"type":"text","text":""}},
{"width":3,"height":147,"mark":{"type":"text","text":""}},
{"width":4,"height":147,"mark":{"type":"text","text":""}},
{"width":70,"height":147,"mark":{"type":"text","text":""}},
{"width":1,"height":147,"mark":{"type":"text","text":""}},

{"width":58,"height":82,"mark":{"type":"text","text":""}},
{"width":9,"height":82,"mark":{"type":"text","text":""}},
{"width":284,"height":82,"mark":{"type":"text","text":""}},
{"width":9,"height":82,"mark":{"type":"text","text":""}},
{"width":107,"height":82,"mark":{"type":"text","text":""}},
{"width":90,"height":82,"mark":{"type":"text","text":""}},
{"width":75,"height":82,"mark":{"type":"text","text":""}},
{"width":3,"height":82,"mark":{"type":"text","text":""}},
{"vconcat":[{"width":40,"height":95,"data":{"values":[{"lab":"Decoder"}]},
 "layer":[
  {"mark":{"type":"rule","color":"#000","strokeWidth":1.3},"encoding":{"x":{"datum":0.32,"type":"quantitative","scale":{"domain":[0,1]},"axis":null},"y":{"datum":0.95,"type":"quantitative","scale":{"domain":[0,1]},"axis":null},"y2":{"datum":0.08}}},
  {"mark":{"type":"point","shape":"M-1,-1.8L0,0L1,-1.8Z","filled":true,"color":"#000","size":16,"opacity":1},"encoding":{"x":{"datum":0.32,"type":"quantitative","axis":null},"y":{"datum":0.05,"type":"quantitative","axis":null}}},
  {"mark":{"type":"text","angle":90,"fontSize":22,"align":"center","baseline":"middle"},"encoding":{"x":{"datum":0.68,"type":"quantitative","axis":null},"y":{"datum":0.52,"type":"quantitative","axis":null},"text":{"field":"lab"}}}
 ]}],"spacing":0,"bounds":"flush"},
{"width":70,"height":82,"mark":{"type":"text","text":""}},
{"width":1,"height":82,"mark":{"type":"text","text":""}},

{"vconcat":[{"width":30,"height":50,"data":{"values":[{"lab":"C"}]},"mark":{"type":"text","fontSize":34,"font":"Liberation Sans","baseline":"middle"},"encoding":{"text":{"field":"lab"}}}],"spacing":0,"bounds":"flush"},
{"width":9,"height":82,"mark":{"type":"text","text":""}},
{"width":284,"height":82,"mark":{"type":"text","text":""}},
{"width":9,"height":82,"mark":{"type":"text","text":""}},
{"width":107,"height":82,"mark":{"type":"text","text":""}},
{"width":90,"height":82,"mark":{"type":"text","text":""}},
{"width":75,"height":82,"mark":{"type":"text","text":""}},
{"width":3,"height":82,"mark":{"type":"text","text":""}},
{"width":4,"height":82,"mark":{"type":"text","text":""}},
{"width":70,"height":82,"mark":{"type":"text","text":""}},
{"width":1,"height":82,"mark":{"type":"text","text":""}},

{"width":58,"height":24,"mark":{"type":"text","text":""}},
{"width":9,"height":24,"mark":{"type":"text","text":""}},
{"width":284,"height":24,"mark":{"type":"text","text":""}},
{"width":9,"height":24,"mark":{"type":"text","text":""}},
{"width":107,"height":24,"mark":{"type":"text","text":""}},
{"width":90,"height":24,"mark":{"type":"text","text":""}},
{"width":75,"height":24,"mark":{"type":"text","text":""}},
{"width":3,"height":24,"mark":{"type":"text","text":""}},
{"width":4,"height":24,"mark":{"type":"text","text":""}},
{"vconcat":[{
 "width":152,"height":94,
 "view":{"stroke":"#999999","strokeWidth":1},
 "title":{"text":"IL1 Receptor KO","offset":-58,"fontSize":21},
 "layer":[
  {"data":{"name":"rbars"},"mark":{"type":"rule","color":"#2b84e6","strokeWidth":8,"strokeCap":"butt"},
   "encoding":{"y":{"field":"cls","type":"nominal","scale":{"type":"point","domain":["TNF Injection","IL-1β Injection","Baseline"],"padding":0.22},"axis":{"title":["Predicted","Class Label"],"titleAngle":0,"titleAlign":"center","titleBaseline":"alphabetic","titleX":-69,"titleY":-52,"titleLineHeight":30,"labelFontSize":21,"labelPadding":6,"labelLimit":300,"domain":true,"domainColor":"#999999","titleFontSize":22}},
    "x":{"field":"t0","type":"quantitative","scale":{"domain":[0,100],"nice":false},"axis":{"values":[0,40,80],"title":"Time (min)","labelFontSize":21,"titleFontSize":22,"labelPadding":6,"titlePadding":2,"domain":true,"domainColor":"#999999"}},
    "x2":{"field":"t1"}}},
  {"data":{"name":"rpts"},"mark":{"type":"square","size":6,"color":"#2b84e6","opacity":0.75},
   "encoding":{"y":{"field":"cls","type":"nominal"},"x":{"field":"t","type":"quantitative"}}}
 ]
}],"spacing":0,"bounds":"flush"},
{"width":1,"height":24,"mark":{"type":"text","text":""}},

{"width":58,"height":11,"mark":{"type":"text","text":""}},
{"width":9,"height":11,"mark":{"type":"text","text":""}},
{"vconcat":[{
 "width":188,"height":145,
 "title":{"text":"TRPV1-Cre/DTA","offset":9},
 "layer":[
  {"data":{"name":"crate"},
   "layer":[
    {"mark":{"type":"line","strokeWidth":1.6},
     "encoding":{
      "x":{"field":"t","type":"quantitative","scale":{"domain":[0,60],"nice":false},"axis":{"values":[0,20,40,60],"title":"Time (min)","labelPadding":4,"titlePadding":6}},
      "y":{"field":"v","type":"quantitative","scale":{"domain":[0,15],"nice":false},"axis":{"values":[0,5,10,15],"title":"Event Rate (CAPs/sec)","titleY":85,"labelPadding":7,"titlePadding":8}},
      "color":{"field":"s","type":"nominal","scale":{"domain":["CAP Cluster 1","CAP Cluster 2","CAP Cluster 3","CAP Cluster 4"],"range":["#3389e8","#e2401c","#eeb21f","#86d23a"]},"legend":{"title":null,"orient":"none","legendX":5,"legendY":-65,"labelFontSize":22,"symbolType":"stroke","symbolSize":576,"symbolStrokeWidth":2.5,"strokeColor":"#222","fillColor":"#ffffff","padding":3,"rowPadding":2,"labelLimit":400,"symbolOffset":6,"labelOffset":8}},
      "strokeDash":{"field":"s","type":"nominal","scale":{"domain":["CAP Cluster 1","CAP Cluster 2","CAP Cluster 3","CAP Cluster 4"],"range":[[3,2],[1,0],[1,0],[3,2]]},"legend":{"title":null,"orient":"none","legendX":5,"legendY":-65,"labelFontSize":22,"symbolType":"stroke","symbolSize":576,"symbolStrokeWidth":2.5,"strokeColor":"#222","fillColor":"#ffffff","padding":3,"rowPadding":2,"labelLimit":400,"symbolOffset":6,"labelOffset":8}}
     }},
    {"data":{"name":"cinj"},"mark":{"type":"rule","color":"#5f9de6","strokeWidth":2},"encoding":{"x":{"field":"t","type":"quantitative"},"y":{"datum":-1.8},"y2":{"datum":-5.6}}},
    {"data":{"name":"cinj"},"mark":{"type":"point","shape":"M-1,1L0,0L1,1","filled":false,"stroke":"#5f9de6","strokeWidth":2,"size":60,"opacity":1},"encoding":{"x":{"field":"t","type":"quantitative"},"y":{"datum":-1.8}}},
    {"data":{"name":"cinj"},"mark":{"type":"text","fontSize":23,"baseline":"middle"},"encoding":{"x":{"field":"t","type":"quantitative"},"y":{"datum":-6.5},"text":{"field":"lab"}}}
   ]},
  {"data":{"values":[{"r":0},{"r":80}]},"mark":{"type":"point","opacity":0},"encoding":{"y":{"field":"r","type":"quantitative","scale":{"domain":[0,80],"nice":false},"axis":{"orient":"right","values":[0,20,40,60,80],"title":null,"domainColor":"#000","domainDash":[2,2],"labelPadding":10}}}}
 ],
 "resolve":{"scale":{"y":"independent"}}
}],"spacing":0,"bounds":"flush","resolve":{"scale":{"color":"independent","strokeDash":"independent"}}},
{"width":9,"height":11,"mark":{"type":"text","text":""}},
{"width":107,"height":11,"mark":{"type":"text","text":""}},
{"width":90,"height":11,"mark":{"type":"text","text":""}},
{"width":75,"height":11,"mark":{"type":"text","text":""}},
{"width":3,"height":11,"mark":{"type":"text","text":""}},
{"width":4,"height":11,"mark":{"type":"text","text":""}},
{"width":70,"height":11,"mark":{"type":"text","text":""}},
{"width":1,"height":11,"mark":{"type":"text","text":""}},

{"width":58,"height":1,"mark":{"type":"text","text":""}},
{"width":9,"height":1,"mark":{"type":"text","text":""}},
{"width":284,"height":1,"mark":{"type":"text","text":""}},
{"width":9,"height":1,"mark":{"type":"text","text":""}},
{"vconcat":[{
 "width":57,"height":39,
 "title":{"text":["Waveforms","by Cluster"],"lineHeight":31,"offset":-17},
 "data":{"name":"cwave"},
 "layer":[
  {"transform":[{"filter":"datum.k === 'w4'"}],"mark":{"type":"line","strokeWidth":0.8,"opacity":0.75,"interpolate":"monotone"},
   "encoding":{"x":{"field":"t","type":"quantitative","scale":{"domain":[0,4],"nice":false},"axis":{"values":[0,2,4],"title":"Time (msec)","labelPadding":4,"titlePadding":2}},
    "y":{"field":"v","type":"quantitative","scale":{"domain":[-40,80],"nice":false},"axis":{"values":[-40,80],"labelExpr":"'' + datum.value","title":"Voltage (μV)","titleY":28,"labelPadding":5,"titlePadding":5}},
    "color":{"field":"k","type":"nominal","scale":{"domain":["w4","m1","m2","m3","m4"],"range":["#a7d98b","#3a7fd0","#d43a1c","#e8a820","#5fb82e"]},"legend":null},
    "detail":{"field":"tr"}}},
  {"transform":[{"filter":"datum.k !== 'w4'"}],"mark":{"type":"line","strokeWidth":1.5,"interpolate":"monotone"},
   "encoding":{"x":{"field":"t","type":"quantitative"},"y":{"field":"v","type":"quantitative"},"color":{"field":"k","type":"nominal","legend":null},"detail":{"field":"tr"}}}
 ]
}],"spacing":0,"bounds":"flush"}
],
"config":{
 "view":{"stroke":null},
 "font":"Lato",
 "axis":{"grid":false,"ticks":false,"labelFontSize":19,"titleFontSize":22,"titleFontWeight":"normal","labelColor":"#000","titleColor":"#000","domainColor":"#9a9a9a","labelFlush":false,"labelOverlap":false},
 "title":{"fontSize":22,"fontWeight":"normal","color":"#000","frame":"group"},
 "legend":{"labelColor":"#000"},
 "text":{"color":"#000"}
}
}
